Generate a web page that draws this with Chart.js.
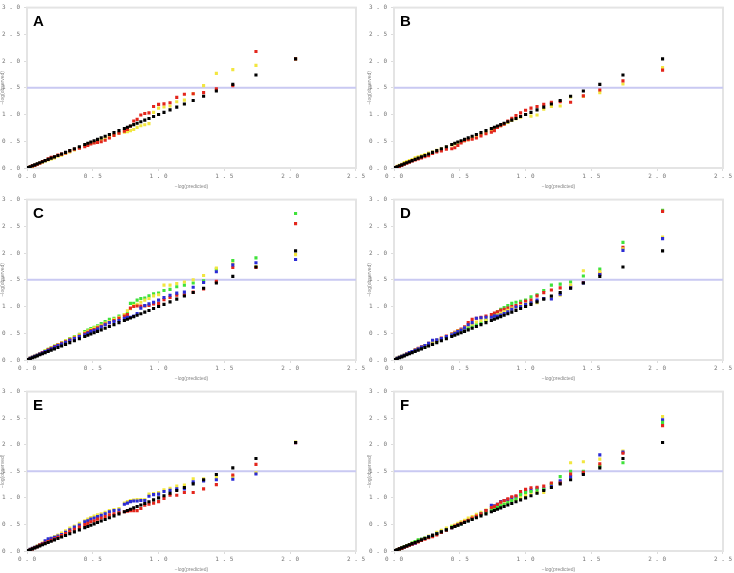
<!DOCTYPE html>
<html>
<head>
<meta charset="utf-8">
<script src="https://cdn.jsdelivr.net/npm/chart.js@4"></script>
<style>
  body { margin: 0; background: #fff; }
  .panel { position: absolute; }
</style>
</head>
<body>
<div class="panel" style="left:0;top:0"><canvas id="pA" width="367" height="190"></canvas></div>
<div class="panel" style="left:367px;top:0"><canvas id="pB" width="367" height="190"></canvas></div>
<div class="panel" style="left:0;top:192px"><canvas id="pC" width="367" height="190"></canvas></div>
<div class="panel" style="left:367px;top:192px"><canvas id="pD" width="367" height="190"></canvas></div>
<div class="panel" style="left:0;top:384px"><canvas id="pE" width="367" height="189"></canvas></div>
<div class="panel" style="left:367px;top:384px"><canvas id="pF" width="367" height="189"></canvas></div>
<script>
// expected -log p (rank order), black points sit on this diagonal
const expected = [
  2.041, 1.740, 1.564, 1.439, 1.342, 1.263, 1.196, 1.138, 1.087, 1.041,
  1.000, 0.962, 0.927, 0.895, 0.865, 0.837, 0.811, 0.786, 0.763, 0.740,
  0.699, 0.661, 0.626, 0.594, 0.564, 0.536, 0.510, 0.485, 0.462, 0.439,
  0.398, 0.360, 0.325, 0.293, 0.263, 0.235, 0.209, 0.184, 0.161, 0.138,
  0.117, 0.097, 0.078, 0.059, 0.041, 0.024, 0.008
];
const threshold = 1.5;
const yTicks = [0, 0.5, 1.0, 1.5, 2.0, 2.5, 3.0];
const xTicks = [0, 0.5, 1.0, 1.5, 2.0, 2.5];

// panel A
const aRed = [
  2.04, 2.18, 1.54, 1.48, 1.41, 1.39, 1.38, 1.32, 1.22, 1.20,
  1.19, 1.15, 1.03, 1.02, 0.99, 0.91, 0.88, 0.78, 0.72, 0.69,
  0.65, 0.61, 0.56, 0.52, 0.49, 0.48, 0.47, 0.45, 0.42, 0.40,
  0.37, 0.35, 0.32, 0.28, 0.26, 0.24, 0.21, 0.20, 0.17, 0.14,
  0.12, 0.09, 0.07, 0.05, 0.04, 0.02, 0.01
];
const aYellow = [
  2.04, 1.92, 1.84, 1.77, 1.54, 1.39, 1.27, 1.24, 1.16, 1.14,
  1.12, 1.04, 0.83, 0.81, 0.79, 0.76, 0.72, 0.70, 0.68, 0.67,
  0.65, 0.62, 0.59, 0.56, 0.53, 0.50, 0.48, 0.46, 0.44, 0.42,
  0.38, 0.34, 0.30, 0.27, 0.24, 0.22, 0.19, 0.17, 0.15, 0.13,
  0.11, 0.09, 0.07, 0.05, 0.03, 0.02, 0.01
];

// panel B
const bRed = [
  1.83, 1.63, 1.46, 1.35, 1.23, 1.24, 1.23, 1.19, 1.15, 1.12,
  1.08, 1.03, 0.98, 0.93, 0.88, 0.82, 0.79, 0.76, 0.70, 0.67,
  0.64, 0.60, 0.56, 0.54, 0.53, 0.51, 0.47, 0.42, 0.38, 0.36,
  0.35, 0.32, 0.30, 0.27, 0.23, 0.21, 0.19, 0.17, 0.15, 0.13,
  0.11, 0.09, 0.07, 0.05, 0.03, 0.02, 0.01
];
const bYellow = [
  1.88, 1.57, 1.41, 1.34, 1.33, 1.16, 1.15, 1.10, 0.99, 0.97,
  1.00, 0.95, 0.92, 0.89, 0.85, 0.82, 0.79, 0.76, 0.73, 0.71,
  0.67, 0.63, 0.59, 0.56, 0.53, 0.51, 0.49, 0.47, 0.45, 0.43,
  0.39, 0.36, 0.33, 0.30, 0.28, 0.25, 0.23, 0.21, 0.19, 0.16,
  0.14, 0.12, 0.10, 0.07, 0.05, 0.03, 0.01
];

// panel C
const cGreen = [
  2.74, 1.91, 1.86, 1.70, 1.48, 1.44, 1.40, 1.37, 1.32, 1.30,
  1.25, 1.24, 1.20, 1.16, 1.15, 1.12, 1.06, 1.06, 0.87, 0.85,
  0.82, 0.78, 0.76, 0.72, 0.68, 0.64, 0.61, 0.59, 0.56, 0.53,
  0.48, 0.44, 0.40, 0.36, 0.32, 0.29, 0.26, 0.23, 0.20, 0.17,
  0.14, 0.12, 0.09, 0.07, 0.05, 0.03, 0.01
];
const cRed = [
  2.55, 1.73, 1.73, 1.47, 1.33, 1.27, 1.22, 1.21, 1.17, 1.13,
  1.06, 1.05, 1.02, 1.01, 1.01, 1.01, 1.00, 0.97, 0.85, 0.82,
  0.78, 0.74, 0.70, 0.67, 0.63, 0.60, 0.57, 0.55, 0.52, 0.49,
  0.45, 0.41, 0.38, 0.34, 0.31, 0.28, 0.25, 0.22, 0.19, 0.16,
  0.14, 0.11, 0.09, 0.07, 0.05, 0.03, 0.01
];
const cYellow = [
  1.97, 1.75, 1.80, 1.72, 1.58, 1.50, 1.46, 1.43, 1.40, 1.40,
  1.22, 1.20, 1.15, 1.12, 1.08, 1.04, 1.02, 0.96, 0.92, 0.85,
  0.80, 0.76, 0.72, 0.69, 0.65, 0.62, 0.60, 0.57, 0.54, 0.51,
  0.47, 0.43, 0.39, 0.36, 0.32, 0.29, 0.26, 0.23, 0.20, 0.17,
  0.14, 0.12, 0.09, 0.07, 0.05, 0.03, 0.01
];
const cBlue = [
  1.88, 1.82, 1.78, 1.65, 1.45, 1.36, 1.27, 1.25, 1.21, 1.17,
  1.12, 1.08, 1.05, 1.02, 0.97, 0.87, 0.82, 0.80, 0.80, 0.78,
  0.74, 0.72, 0.70, 0.66, 0.62, 0.58, 0.55, 0.53, 0.50, 0.47,
  0.44, 0.40, 0.37, 0.33, 0.30, 0.27, 0.24, 0.21, 0.18, 0.16,
  0.13, 0.11, 0.09, 0.07, 0.05, 0.03, 0.01
];

// panel D
const dGreen = [
  2.80, 2.20, 1.70, 1.57, 1.46, 1.42, 1.40, 1.30, 1.22, 1.18,
  1.12, 1.10, 1.08, 1.06, 1.02, 0.98, 0.95, 0.90, 0.85, 0.80,
  0.74, 0.69, 0.66, 0.63, 0.60, 0.57, 0.55, 0.53, 0.50, 0.47,
  0.43, 0.39, 0.35, 0.32, 0.29, 0.26, 0.23, 0.20, 0.18, 0.15,
  0.13, 0.11, 0.09, 0.07, 0.05, 0.03, 0.01
];
const dRed = [
  2.78, 2.11, 1.62, 1.45, 1.38, 1.35, 1.31, 1.26, 1.20, 1.12,
  1.10, 1.06, 1.02, 1.00, 0.97, 0.95, 0.93, 0.90, 0.88, 0.85,
  0.82, 0.80, 0.78, 0.76, 0.70, 0.62, 0.58, 0.55, 0.52, 0.49,
  0.45, 0.41, 0.37, 0.34, 0.31, 0.27, 0.25, 0.22, 0.19, 0.16,
  0.14, 0.12, 0.09, 0.07, 0.05, 0.03, 0.01
];
const dYellow = [
  2.30, 2.08, 1.65, 1.67, 1.40, 1.21, 1.18, 1.15, 1.07, 1.06,
  1.05, 1.02, 0.98, 0.97, 0.93, 0.90, 0.87, 0.84, 0.81, 0.79,
  0.76, 0.74, 0.71, 0.67, 0.64, 0.60, 0.56, 0.54, 0.51, 0.48,
  0.44, 0.40, 0.37, 0.33, 0.30, 0.27, 0.24, 0.21, 0.18, 0.16,
  0.13, 0.11, 0.09, 0.07, 0.05, 0.03, 0.01
];
const dBlue = [
  2.27, 2.05, 1.60, 1.44, 1.35, 1.23, 1.14, 1.15, 1.12, 1.07,
  1.04, 1.00, 0.99, 0.95, 0.90, 0.87, 0.84, 0.82, 0.82, 0.80,
  0.80, 0.79, 0.78, 0.70, 0.66, 0.60, 0.56, 0.53, 0.50, 0.47,
  0.44, 0.40, 0.38, 0.37, 0.31, 0.27, 0.24, 0.21, 0.18, 0.16,
  0.14, 0.11, 0.09, 0.07, 0.05, 0.03, 0.01
];

// panel E
const eYellow = [
  2.05, 1.47, 1.40, 1.38, 1.36, 1.36, 1.24, 1.22, 1.18, 1.15,
  1.10, 1.08, 1.07, 0.97, 0.97, 0.97, 0.96, 0.95, 0.93, 0.90,
  0.80, 0.78, 0.76, 0.73, 0.70, 0.68, 0.66, 0.63, 0.60, 0.57,
  0.52, 0.47, 0.43, 0.38, 0.34, 0.30, 0.27, 0.24, 0.21, 0.18,
  0.15, 0.12, 0.10, 0.07, 0.05, 0.03, 0.01
];
const eBlue = [
  2.04, 1.45, 1.35, 1.34, 1.32, 1.30, 1.17, 1.17, 1.14, 1.12,
  1.07, 1.06, 1.03, 0.95, 0.95, 0.94, 0.94, 0.93, 0.90, 0.88,
  0.77, 0.76, 0.74, 0.70, 0.67, 0.65, 0.62, 0.60, 0.57, 0.55,
  0.49, 0.45, 0.40, 0.35, 0.31, 0.28, 0.26, 0.24, 0.23, 0.19,
  0.14, 0.11, 0.09, 0.07, 0.05, 0.03, 0.01
];
const eRed = [
  2.04, 1.63, 1.43, 1.25, 1.17, 1.10, 1.10, 1.05, 1.05, 0.99,
  0.93, 0.90, 0.88, 0.86, 0.80, 0.76, 0.76, 0.76, 0.75, 0.74,
  0.72, 0.70, 0.68, 0.65, 0.62, 0.60, 0.57, 0.55, 0.52, 0.50,
  0.45, 0.41, 0.37, 0.33, 0.29, 0.26, 0.23, 0.20, 0.18, 0.15,
  0.13, 0.11, 0.08, 0.06, 0.04, 0.02, 0.01
];

// panel F
const fYellow = [
  2.53, 1.88, 1.73, 1.68, 1.66, 1.30, 1.22, 1.10, 1.10, 1.10,
  1.05, 1.01, 0.97, 0.95, 0.92, 0.89, 0.86, 0.84, 0.82, 0.80,
  0.77, 0.73, 0.69, 0.65, 0.62, 0.58, 0.55, 0.52, 0.49, 0.47,
  0.43, 0.39, 0.35, 0.31, 0.28, 0.25, 0.22, 0.20, 0.17, 0.15,
  0.12, 0.10, 0.08, 0.06, 0.04, 0.02, 0.01
];
const fBlue = [
  2.47, 1.86, 1.81, 1.46, 1.40, 1.32, 1.25, 1.17, 1.18, 1.15,
  1.13, 1.08, 1.02, 1.00, 0.97, 0.95, 0.93, 0.88, 0.85, 0.86,
  0.76, 0.70, 0.65, 0.61, 0.57, 0.54, 0.51, 0.49, 0.46, 0.44,
  0.40, 0.36, 0.33, 0.30, 0.27, 0.24, 0.22, 0.18, 0.14, 0.13,
  0.11, 0.09, 0.07, 0.05, 0.04, 0.02, 0.01
];
const fGreen = [
  2.42, 1.66, 1.60, 1.50, 1.50, 1.40, 1.27, 1.16, 1.15, 1.12,
  1.10, 1.06, 0.98, 0.95, 0.91, 0.88, 0.85, 0.82, 0.79, 0.77,
  0.72, 0.69, 0.65, 0.61, 0.57, 0.54, 0.51, 0.48, 0.46, 0.45,
  0.40, 0.36, 0.32, 0.29, 0.26, 0.24, 0.22, 0.21, 0.18, 0.15,
  0.12, 0.10, 0.08, 0.06, 0.04, 0.02, 0.01
];
const fRed = [
  2.36, 1.84, 1.64, 1.48, 1.45, 1.28, 1.28, 1.22, 1.20, 1.19,
  1.16, 1.12, 1.04, 1.02, 0.98, 0.95, 0.92, 0.88, 0.84, 0.82,
  0.76, 0.70, 0.66, 0.62, 0.58, 0.55, 0.52, 0.49, 0.47, 0.44,
  0.39, 0.35, 0.30, 0.27, 0.25, 0.22, 0.20, 0.17, 0.15, 0.13,
  0.11, 0.09, 0.07, 0.05, 0.04, 0.02, 0.01
];

const RED = '#e3261c', YELLOW = '#f2e640', GREEN = '#3fe23a', BLUE = '#2b2bd6', BLACK = '#000000';

const panels = [
  { id: 'pA', letter: 'A', series: [[aRed, RED], [aYellow, YELLOW]] },
  { id: 'pB', letter: 'B', series: [[bRed, RED], [bYellow, YELLOW]] },
  { id: 'pC', letter: 'C', series: [[cBlue, BLUE], [cRed, RED], [cYellow, YELLOW], [cGreen, GREEN]] },
  { id: 'pD', letter: 'D', series: [[dBlue, BLUE], [dYellow, YELLOW], [dRed, RED], [dGreen, GREEN]] },
  { id: 'pE', letter: 'E', series: [[eRed, RED], [eBlue, BLUE], [eYellow, YELLOW]] },
  { id: 'pF', letter: 'F', series: [[fRed, RED], [fGreen, GREEN], [fBlue, BLUE], [fYellow, YELLOW]] },
];

// frame, 1.5 line and panel letter
const decor = {
  id: 'decor',
  beforeDatasetsDraw(chart, args, opts) {
    const { ctx, chartArea: a, scales: { y } } = chart;
    ctx.save();
    ctx.strokeStyle = '#e4e4e4';
    ctx.lineWidth = 2;
    ctx.strokeRect(a.left, a.top, a.right - a.left, a.bottom - a.top);
    const yy = y.getPixelForValue(threshold);
    ctx.strokeStyle = '#c9c9f2';
    ctx.lineWidth = 2;
    ctx.beginPath();
    ctx.moveTo(a.left, yy);
    ctx.lineTo(a.right, yy);
    ctx.stroke();
    ctx.fillStyle = '#000';
    ctx.font = 'bold 15px "Liberation Sans", Arial, sans-serif';
    ctx.textBaseline = 'top';
    ctx.fillText(opts.letter, a.left + 6, a.top + 7);
    ctx.restore();
  }
};

const spaced = v => Number(v).toFixed(1).split('').join(' ');
const tickFont = { family: '"DejaVu Sans Mono", monospace', size: 6 };

panels.forEach(p => {
  const sets = [{
    data: expected.map((x, i) => ({ x: x, y: expected[i] })),
    backgroundColor: BLACK
  }];
  p.series.forEach(([vals, col]) => {
    sets.push({
      data: expected.map((x, i) => ({ x: x, y: vals[i] })),
      backgroundColor: col
    });
  });
  sets.forEach(s => {
    s.pointStyle = 'rect';
    s.pointRadius = 2.2;
    s.borderWidth = 0;
    s.showLine = false;
  });

  new Chart(document.getElementById(p.id), {
    type: 'scatter',
    data: { datasets: sets },
    plugins: [decor],
    options: {
      responsive: false,
      animation: false,
      events: [],
      layout: { padding: { top: 4, right: 9, left: 0, bottom: 0 } },
      plugins: {
        legend: { display: false },
        tooltip: { enabled: false },
        decor: { letter: p.letter }
      },
      scales: {
        x: {
          min: 0, max: 2.5,
          afterBuildTicks: s => { s.ticks = xTicks.map(v => ({ value: v })); },
          afterFit: s => { s.height = 22; },
          grid: { drawOnChartArea: false, color: '#dcdcdc', tickLength: 3 },
          border: { color: '#e0e0e0', width: 2 },
          ticks: { color: '#777', font: tickFont, padding: 2, maxRotation: 0, callback: spaced },
          title: { display: true, text: '\u2212log(predicted)', color: '#888', font: { size: 5 }, padding: 0 }
        },
        y: {
          min: 0, max: 3,
          afterBuildTicks: s => { s.ticks = yTicks.map(v => ({ value: v })); },
          afterFit: s => { s.width = 27; },
          grid: { drawOnChartArea: false, color: '#dcdcdc', tickLength: 3 },
          border: { color: '#e0e0e0', width: 2 },
          ticks: { color: '#777', font: tickFont, padding: 4, callback: spaced },
          title: { display: true, text: '\u2212log(observed)', color: '#888', font: { size: 5 }, padding: 0 }
        }
      }
    }
  });
});
</script>
</body>
</html>
